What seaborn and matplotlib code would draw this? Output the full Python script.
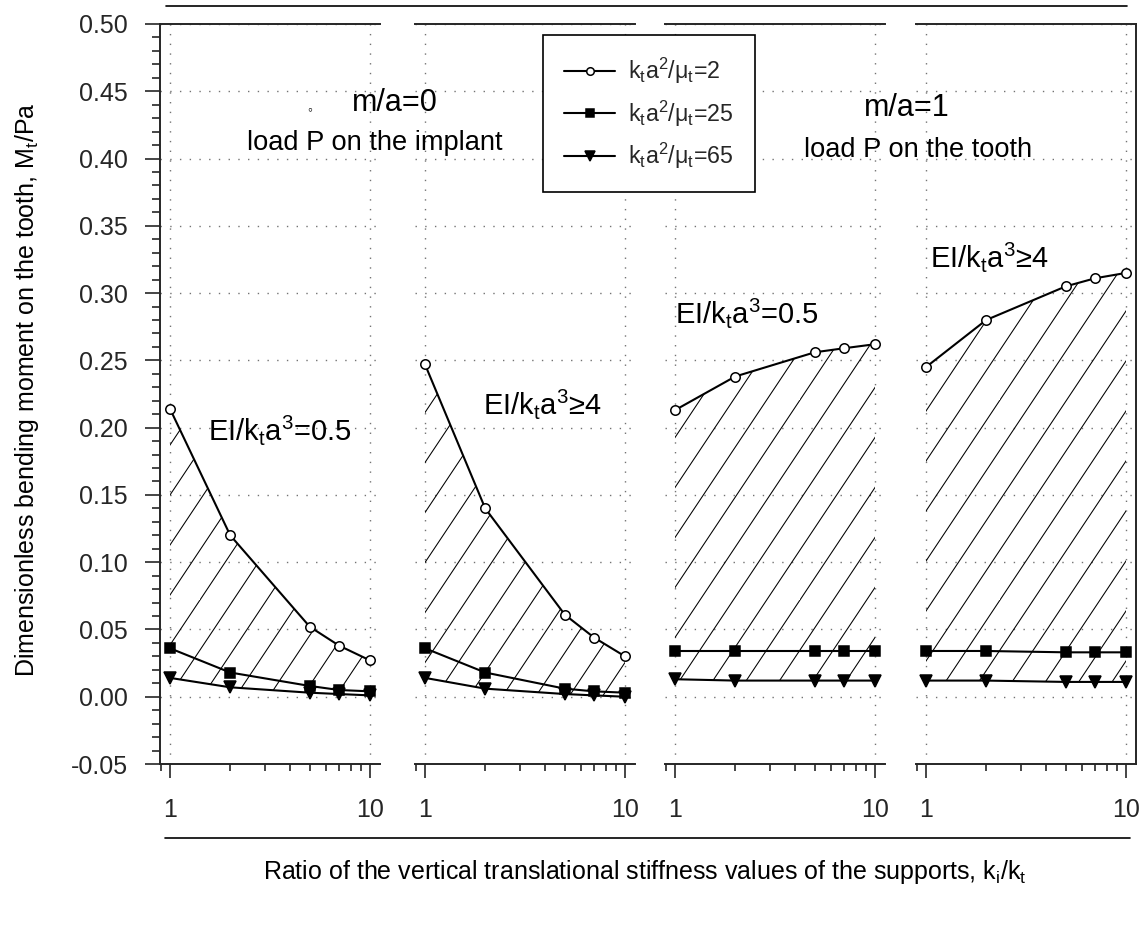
import numpy as np
import pandas as pd
import seaborn as sns
import matplotlib
matplotlib.use("Agg")
import matplotlib.pyplot as plt
import matplotlib.hatch as mhatch
from matplotlib.path import Path
from matplotlib.ticker import FixedLocator, FixedFormatter, LogLocator, NullFormatter, MultipleLocator
from matplotlib.lines import Line2D

# ---------------- data ----------------
ratio = [1, 2, 5, 7, 10]
series_labels = [r"k$_t$a$^2$/μ$_t$=2", r"k$_t$a$^2$/μ$_t$=25", r"k$_t$a$^2$/μ$_t$=65"]

circ_p1 = [0.214, 0.120, 0.052, 0.038, 0.027]
circ_p2 = [0.247, 0.140, 0.061, 0.044, 0.030]
circ_p3 = [0.213, 0.238, 0.256, 0.259, 0.262]
circ_p4 = [0.245, 0.280, 0.305, 0.311, 0.315]

sq_p1 = [0.036, 0.018, 0.008, 0.005, 0.004]
sq_p2 = [0.036, 0.018, 0.006, 0.004, 0.003]
sq_p3 = [0.034, 0.034, 0.034, 0.034, 0.034]
sq_p4 = [0.034, 0.034, 0.033, 0.033, 0.033]

tri_p1 = [0.014, 0.007, 0.003, 0.002, 0.001]
tri_p2 = [0.014, 0.006, 0.002, 0.001, 0.000]
tri_p3 = [0.013, 0.012, 0.012, 0.012, 0.012]
tri_p4 = [0.012, 0.012, 0.011, 0.011, 0.011]

panel_labels = [r"EI/k$_t$a$^3$=0.5", r"EI/k$_t$a$^3$≥4", r"EI/k$_t$a$^3$=0.5", r"EI/k$_t$a$^3$≥4"]
yticks = [-0.05, 0.00, 0.05, 0.10, 0.15, 0.20, 0.25, 0.30, 0.35, 0.40, 0.45, 0.50]
xticks = [1, 10]
xticklabels = ["1", "10"]

panels = [
    (circ_p1, sq_p1, tri_p1),
    (circ_p2, sq_p2, tri_p2),
    (circ_p3, sq_p3, tri_p3),
    (circ_p4, sq_p4, tri_p4),
]


# ---------------- steeper "/" hatch (about 56 degrees, like the scan) ----------------
class SteepHatch(mhatch.HatchPatternBase):
    def __init__(self, hatch, density):
        m = int((hatch.count('/') + hatch.count('x') + hatch.count('X')) * density)
        m = int(np.ceil(m / 3.0) * 3) if m else 0
        self.m = m
        self.extra = int(np.ceil(2 * m / 3.0)) if m else 0
        self.num_lines = m + self.extra if m else 0
        self.num_vertices = self.num_lines * 2

    def set_vertices_and_codes(self, vertices, codes):
        k = np.arange(-self.extra, self.m)
        x0 = k / self.m
        vertices[0::2, 0] = x0
        vertices[0::2, 1] = 0.0
        vertices[1::2, 0] = x0 + 2.0 / 3.0
        vertices[1::2, 1] = 1.0
        codes[0::2] = Path.MOVETO
        codes[1::2] = Path.LINETO


try:
    idx = mhatch._hatch_types.index(mhatch.NorthEastHatch)
    mhatch._hatch_types[idx] = SteepHatch
except Exception:
    pass

# ---------------- style ----------------
sns.set_style("ticks")
plt.rcParams["font.family"] = ["Liberation Sans", "DejaVu Sans"]
plt.rcParams["mathtext.fontset"] = "custom"
plt.rcParams["mathtext.rm"] = "Liberation Sans"
plt.rcParams["mathtext.it"] = "Liberation Sans"
plt.rcParams["mathtext.default"] = "regular"
plt.rcParams["hatch.linewidth"] = 0.38
plt.rcParams["axes.linewidth"] = 0.7

W, H, DPI = 1147, 931, 200
fig = plt.figure(figsize=(W / DPI, H / DPI), dpi=DPI)


def fx(x):
    return x / W


def fy(y):
    return 1 - y / H


PT = 72 / DPI  # points per pixel

lefts = [160, 415, 665, 916]
pw = 220
top_px, bot_px = 24, 764
xlim = (10 ** -0.05, 10 ** 1.05)

styles = [
    dict(marker="o", markerfacecolor="white", markersize=3.4),
    dict(marker="s", markerfacecolor="black", markersize=3.6),
    dict(marker="v", markerfacecolor="black", markersize=4.2),
]

axes = []
for i, (lp, data) in enumerate(zip(lefts, panels)):
    ax = fig.add_axes([fx(lp), fy(bot_px), pw / W, (bot_px - top_px) / H])
    axes.append(ax)
    ax.set_xscale("log")
    circ, sq, tri = data
    # hatched region between upper and lower curves
    ax.fill_between(ratio, tri, circ, facecolor="none", edgecolor="black",
                    hatch="/", linewidth=0, zorder=1)
    for vals, st, lab in zip((circ, sq, tri), styles, series_labels):
        sns.lineplot(x=ratio, y=vals, ax=ax, color="black", linewidth=0.75,
                     markeredgecolor="black", markeredgewidth=0.55,
                     errorbar=None, label=lab, legend=False, zorder=3, **st)
    ax.set_xlim(*xlim)
    ax.set_ylim(-0.05, 0.50)
    ax.xaxis.set_major_locator(FixedLocator(xticks))
    ax.xaxis.set_major_formatter(FixedFormatter(xticklabels))
    ax.xaxis.set_minor_locator(LogLocator(base=10, subs=np.arange(2, 10)))
    ax.xaxis.set_minor_formatter(NullFormatter())
    ax.tick_params(axis="x", which="major", direction="out", length=14 * PT,
                   width=0.6, labelsize=9, pad=20 * PT)
    ax.tick_params(axis="x", which="minor", direction="out", length=7 * PT, width=0.6)
    ax.grid(True, which="major", linestyle=(0, (1, 6)), color="0.45", linewidth=0.5)
    ax.set_xlabel("")
    ax.set_ylabel("")
    for s in ["top", "bottom"]:
        ax.spines[s].set_visible(True)
        ax.spines[s].set_linewidth(0.7)
    ax.spines["left"].set_visible(i == 0)
    ax.spines["right"].set_visible(i == 3)
    ax.set_yticks(yticks)
    if i == 0:
        ax.set_yticklabels([f"{v:.2f}" for v in yticks])
        ax.yaxis.set_minor_locator(MultipleLocator(0.01))
        ax.tick_params(axis="y", which="major", direction="out", length=15 * PT,
                       width=0.6, labelsize=9, pad=17 * PT)
        ax.tick_params(axis="y", which="minor", direction="out", length=8 * PT, width=0.6)
    else:
        ax.tick_params(axis="y", which="both", left=False, right=False, labelleft=False)

# panel annotations
txt_kw = dict(transform=fig.transFigure, color="black")
fig.text(fx(208), fy(430), panel_labels[0], fontsize=10.5, ha="left", va="center", **txt_kw)
fig.text(fx(483), fy(404), panel_labels[1], fontsize=10.5, ha="left", va="center", **txt_kw)
fig.text(fx(675), fy(313), panel_labels[2], fontsize=10.5, ha="left", va="center", **txt_kw)
fig.text(fx(930), fy(257), panel_labels[3], fontsize=10.5, ha="left", va="center", **txt_kw)

fig.text(fx(352), fy(103), "m/a=0", fontsize=11, ha="left", va="center", **txt_kw)
fig.text(fx(310), fy(109), "◦", fontsize=5, ha="center", va="center", **txt_kw)
fig.text(fx(247), fy(143), "load P on the implant", fontsize=9.8, ha="left", va="center", **txt_kw)
fig.text(fx(950), fy(108), "m/a=1", fontsize=11, ha="right", va="center", **txt_kw)
fig.text(fx(1032), fy(150), "load P on the tooth", fontsize=9.8, ha="right", va="center", **txt_kw)

# axis titles
fig.text(fx(27), fy(390), r"Dimensionless bending moment on the tooth, M$_t$/Pa",
         rotation=90, fontsize=9, ha="center", va="center", **txt_kw)
fig.text(fx(645), fy(872),
         r"Ratio of the vertical translational stiffness values of the supports, k$_i$/k$_t$",
         fontsize=9, ha="center", va="center", **txt_kw)

# frame decoration lines
fig.add_artist(Line2D([fx(166), fx(1127)], [fy(6), fy(6)], color="black", lw=0.6,
                      transform=fig.transFigure))
fig.add_artist(Line2D([fx(165), fx(1130)], [fy(838), fy(838)], color="black", lw=0.6,
                      transform=fig.transFigure))

# legend
handles = axes[0].get_lines()[:3]
leg = fig.legend(handles, series_labels, loc="upper left",
                 bbox_to_anchor=(fx(543), fy(35)), bbox_transform=fig.transFigure,
                 frameon=True, fancybox=False, edgecolor="black", framealpha=1,
                 fontsize=8.4, handlelength=2.2, handletextpad=0.55, borderpad=0.9,
                 labelspacing=0.52, borderaxespad=0, markerscale=0.8)
leg.get_frame().set_linewidth(0.6)

fig.savefig("out.png", dpi=DPI, facecolor="white")
